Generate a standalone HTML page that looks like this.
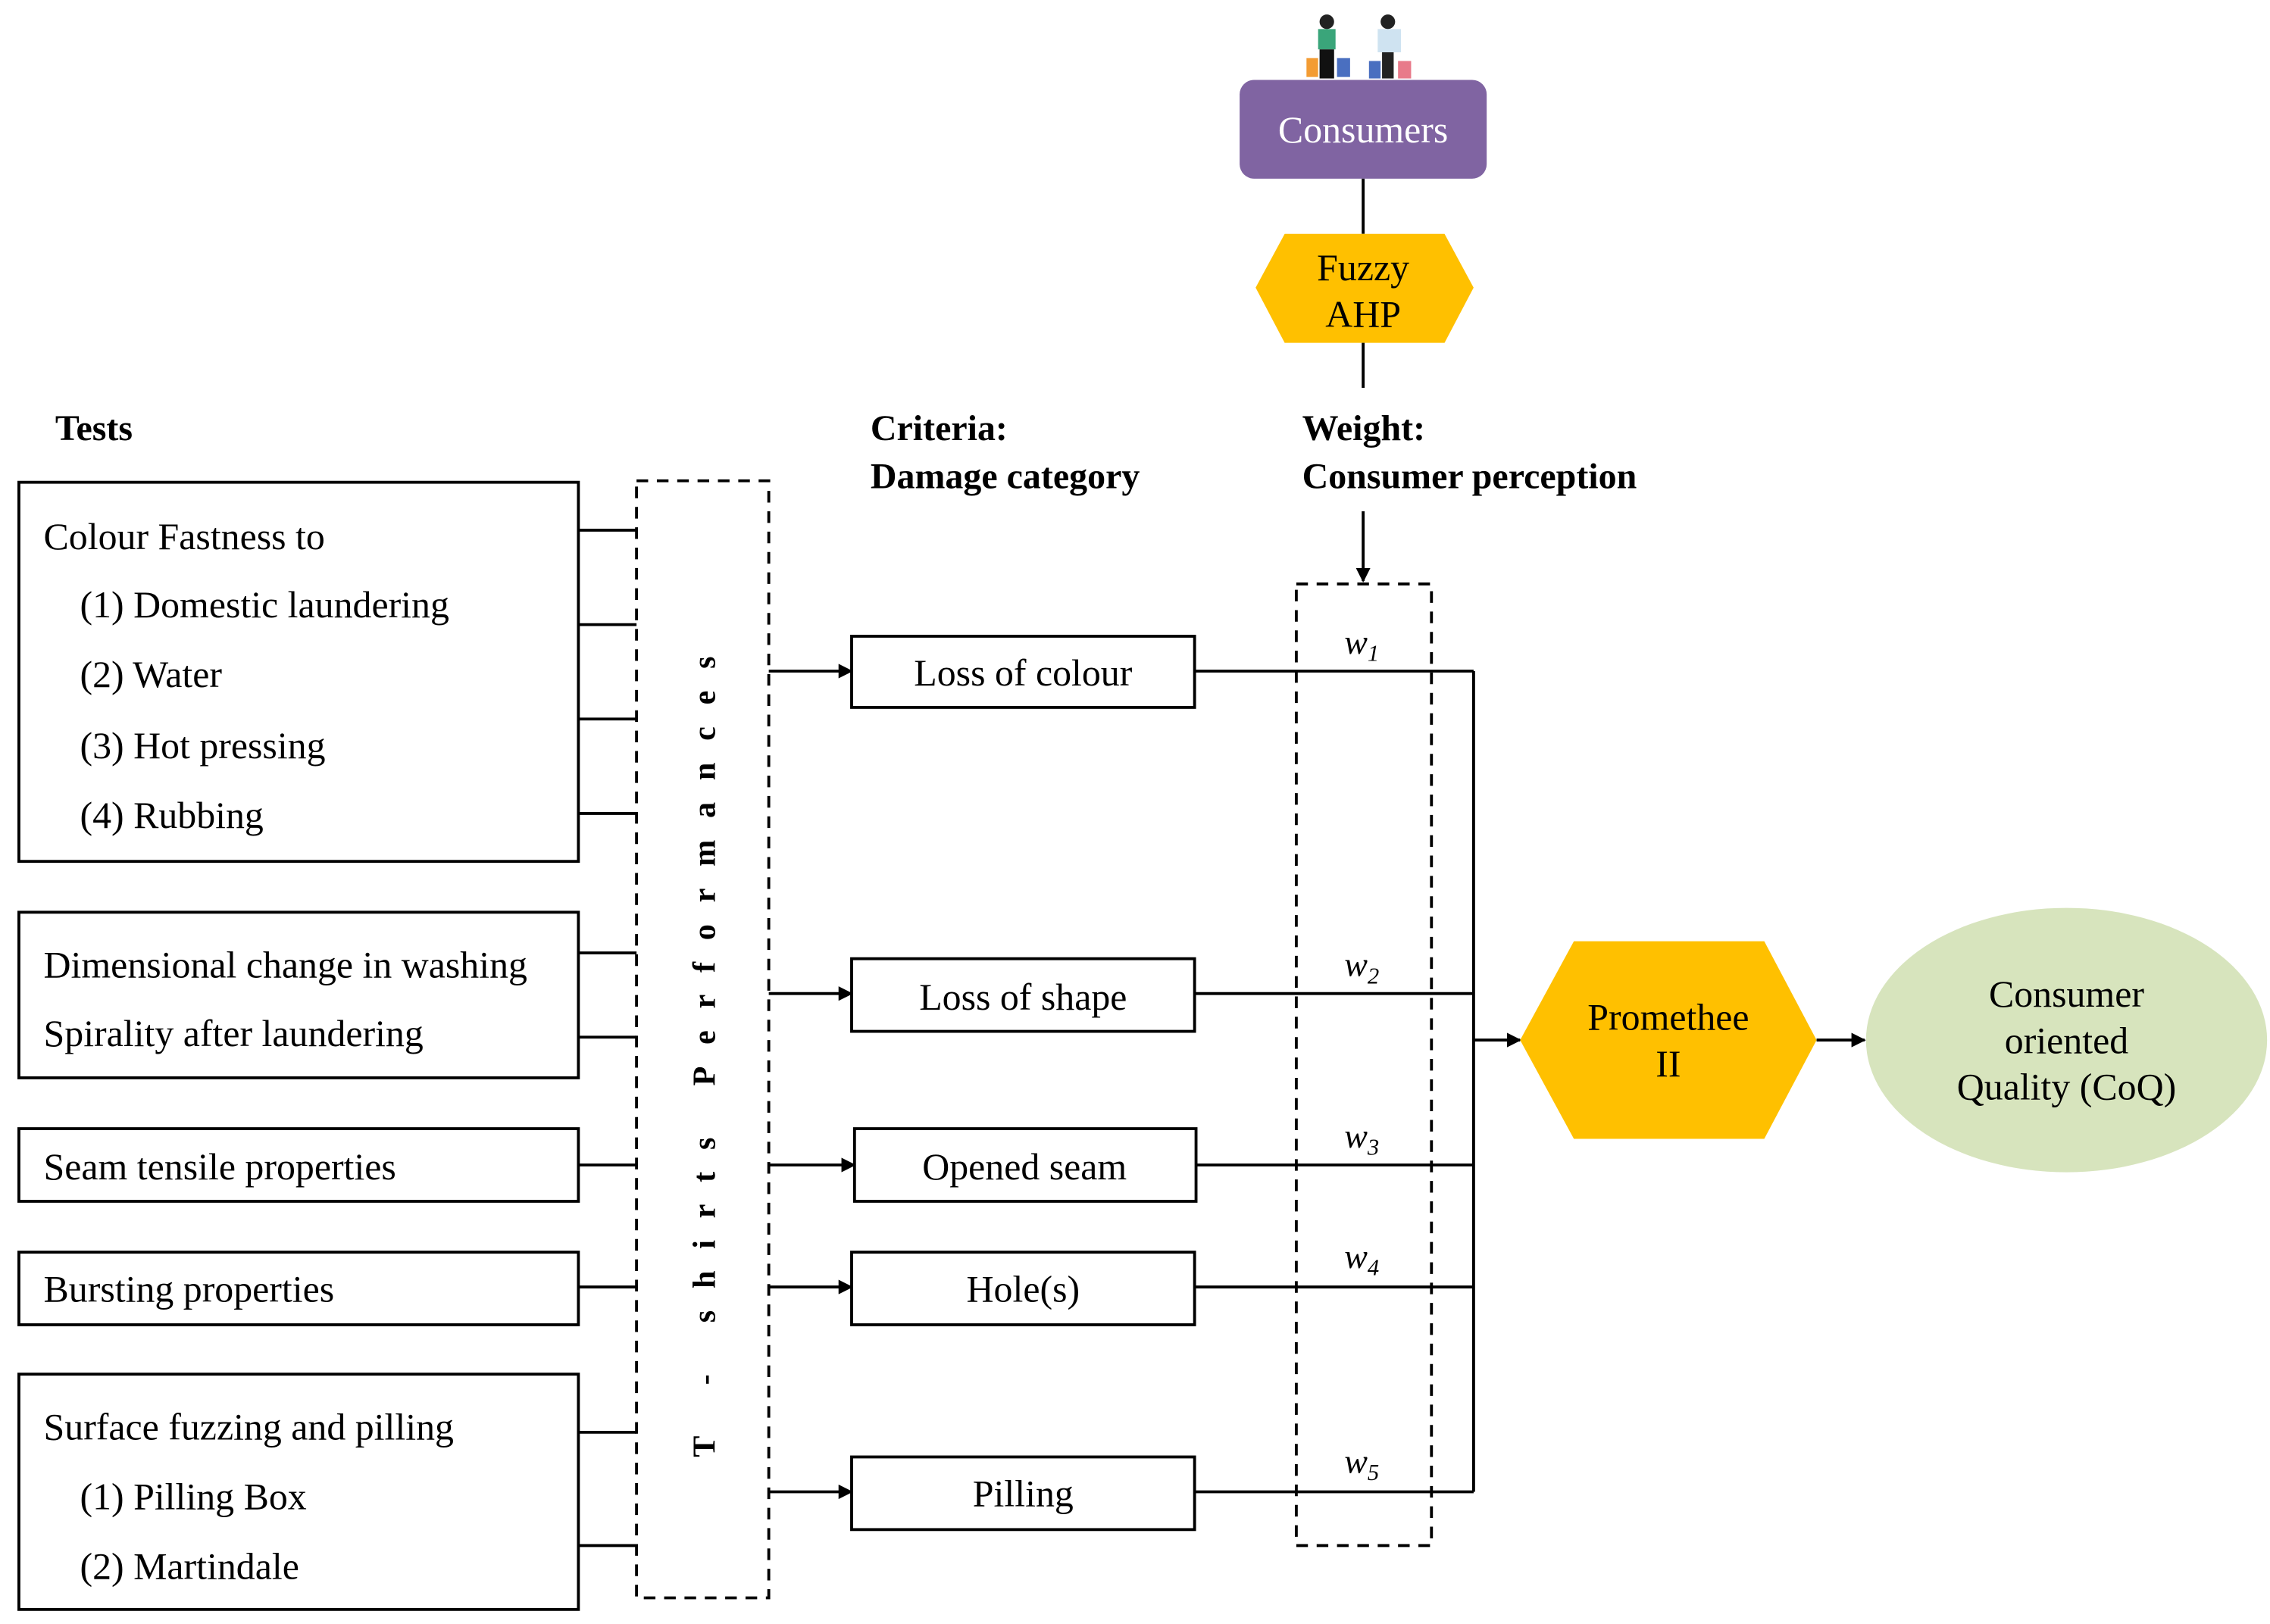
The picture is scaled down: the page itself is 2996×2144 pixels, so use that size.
<!DOCTYPE html>
<html><head><meta charset="utf-8"><style>html,body{margin:0;padding:0;background:#fff}svg{display:block;font-family:"Liberation Serif","Times New Roman",serif}svg text{font-family:"Liberation Serif","Times New Roman",serif}</style></head>
<body>
<svg width="2996" height="2144" viewBox="0 0 1562 1118" preserveAspectRatio="none" xmlns="http://www.w3.org/2000/svg" font-size="26">
<defs><marker id="a" markerWidth="10" markerHeight="10" refX="9" refY="5" orient="auto" markerUnits="userSpaceOnUse"><path d="M0,0 L10,5 L0,10 z" fill="#000"/></marker></defs>
<g>
<circle cx="913" cy="15" r="5" fill="#222"/><rect x="907" y="20" width="12" height="14" fill="#3aa57a"/><rect x="908" y="34" width="10" height="20" fill="#111"/>
<rect x="899" y="40" width="8" height="13" fill="#f39c33"/><rect x="920" y="40" width="9" height="13" fill="#4a6fc0"/>
<circle cx="955" cy="15" r="5" fill="#222"/><rect x="948" y="20" width="16" height="16" fill="#cfe3f1"/><rect x="951" y="36" width="8" height="18" fill="#222"/>
<rect x="942" y="42" width="8" height="12" fill="#4a6fc0"/><rect x="962" y="42" width="9" height="12" fill="#e87a8a"/>
</g>
<rect x="853" y="55" width="170" height="68" rx="10" fill="#8064a2"/>
<text x="938" y="98" text-anchor="middle" fill="#fff">Consumers</text>
<line x1="938" y1="123" x2="938" y2="161" stroke="#000" stroke-width="2"/>
<polygon points="864,198 884,161 994,161 1014,198 994,236 884,236" fill="#ffc000"/>
<text x="938" y="193" text-anchor="middle">Fuzzy</text>
<text x="938" y="225" text-anchor="middle">AHP</text>
<line x1="938" y1="236" x2="938" y2="267" stroke="#000" stroke-width="2"/>
<g font-weight="bold" font-size="25">
<text x="38" y="303">Tests</text>
<text x="599" y="303">Criteria:</text>
<text x="599" y="336">Damage category</text>
<text x="896" y="303">Weight:</text>
<text x="896" y="336">Consumer perception</text>
</g>
<line x1="938" y1="352" x2="938" y2="400" stroke="#000" stroke-width="2" marker-end="url(#a)"/>
<rect x="892" y="402" width="93" height="662" fill="none" stroke="#000" stroke-width="2" stroke-dasharray="8,6"/>
<g fill="none" stroke="#000" stroke-width="2">
<rect x="13" y="332" width="385" height="261"/>
<rect x="13" y="628" width="385" height="114"/>
<rect x="13" y="777" width="385" height="50"/>
<rect x="13" y="862" width="385" height="50"/>
<rect x="13" y="946" width="385" height="162"/>
<path d="M398,365H438M398,430H438M398,495H438M398,560H438M398,656H438M398,714H438M398,802H438M398,886H438M398,986H438M398,1064H438"/>
<rect x="438" y="331" width="91" height="769" stroke-dasharray="8,6"/>
<rect x="586" y="438" width="236" height="49"/>
<rect x="586" y="660" width="236" height="50"/>
<rect x="588" y="777" width="235" height="50"/>
<rect x="586" y="862" width="236" height="50"/>
<rect x="586" y="1003" width="236" height="50"/>
<path d="M822,462H1014M822,684H1014M823,802H1014M822,886H1014M822,1027H1014M1014,462V1027"/>
</g>
<g stroke="#000" stroke-width="2" marker-end="url(#a)">
<line x1="529" y1="462" x2="586" y2="462"/>
<line x1="529" y1="684" x2="586" y2="684"/>
<line x1="529" y1="802" x2="588" y2="802"/>
<line x1="529" y1="886" x2="586" y2="886"/>
<line x1="529" y1="1027" x2="586" y2="1027"/>
<line x1="1014" y1="716" x2="1046" y2="716"/>
<line x1="1250" y1="716" x2="1283" y2="716"/>
</g>
<text x="30" y="378">Colour Fastness to</text>
<text x="55" y="425">(1)  Domestic laundering</text>
<text x="55" y="473">(2)  Water</text>
<text x="55" y="522">(3)  Hot pressing</text>
<text x="55" y="570">(4)  Rubbing</text>
<text x="30" y="673">Dimensional change in washing</text>
<text x="30" y="720">Spirality after laundering</text>
<text x="30" y="812">Seam tensile properties</text>
<text x="30" y="896">Bursting properties</text>
<text x="30" y="991">Surface fuzzing and pilling</text>
<text x="55" y="1039">(1)  Pilling Box</text>
<text x="55" y="1087">(2)  Martindale</text>
<text transform="translate(492,720) rotate(-90)" text-anchor="middle" font-weight="bold" font-size="22" letter-spacing="15">T - shirts  Performances</text>
<g text-anchor="middle">
<text x="704" y="472">Loss of colour</text>
<text x="704" y="695">Loss of shape</text>
<text x="705" y="812">Opened seam</text>
<text x="704" y="896">Hole(s)</text>
<text x="704" y="1037">Pilling</text>
</g>
<g font-style="italic" font-size="24">
<text x="925" y="450">w<tspan font-size="16" dy="5">1</tspan></text>
<text x="925" y="672">w<tspan font-size="16" dy="5">2</tspan></text>
<text x="925" y="790">w<tspan font-size="16" dy="5">3</tspan></text>
<text x="925" y="873">w<tspan font-size="16" dy="5">4</tspan></text>
<text x="925" y="1014">w<tspan font-size="16" dy="5">5</tspan></text>
</g>
<polygon points="1046,716 1083,648 1214,648 1250,716 1214,784 1083,784" fill="#ffc000"/>
<text x="1148" y="709" text-anchor="middle">Promethee</text>
<text x="1148" y="741" text-anchor="middle">II</text>
<ellipse cx="1422" cy="716" rx="138" ry="91" fill="#d7e4bd"/>
<text x="1422" y="693" text-anchor="middle">Consumer</text>
<text x="1422" y="725" text-anchor="middle">oriented</text>
<text x="1422" y="757" text-anchor="middle">Quality (CoQ)</text>
</svg>
</body></html>
